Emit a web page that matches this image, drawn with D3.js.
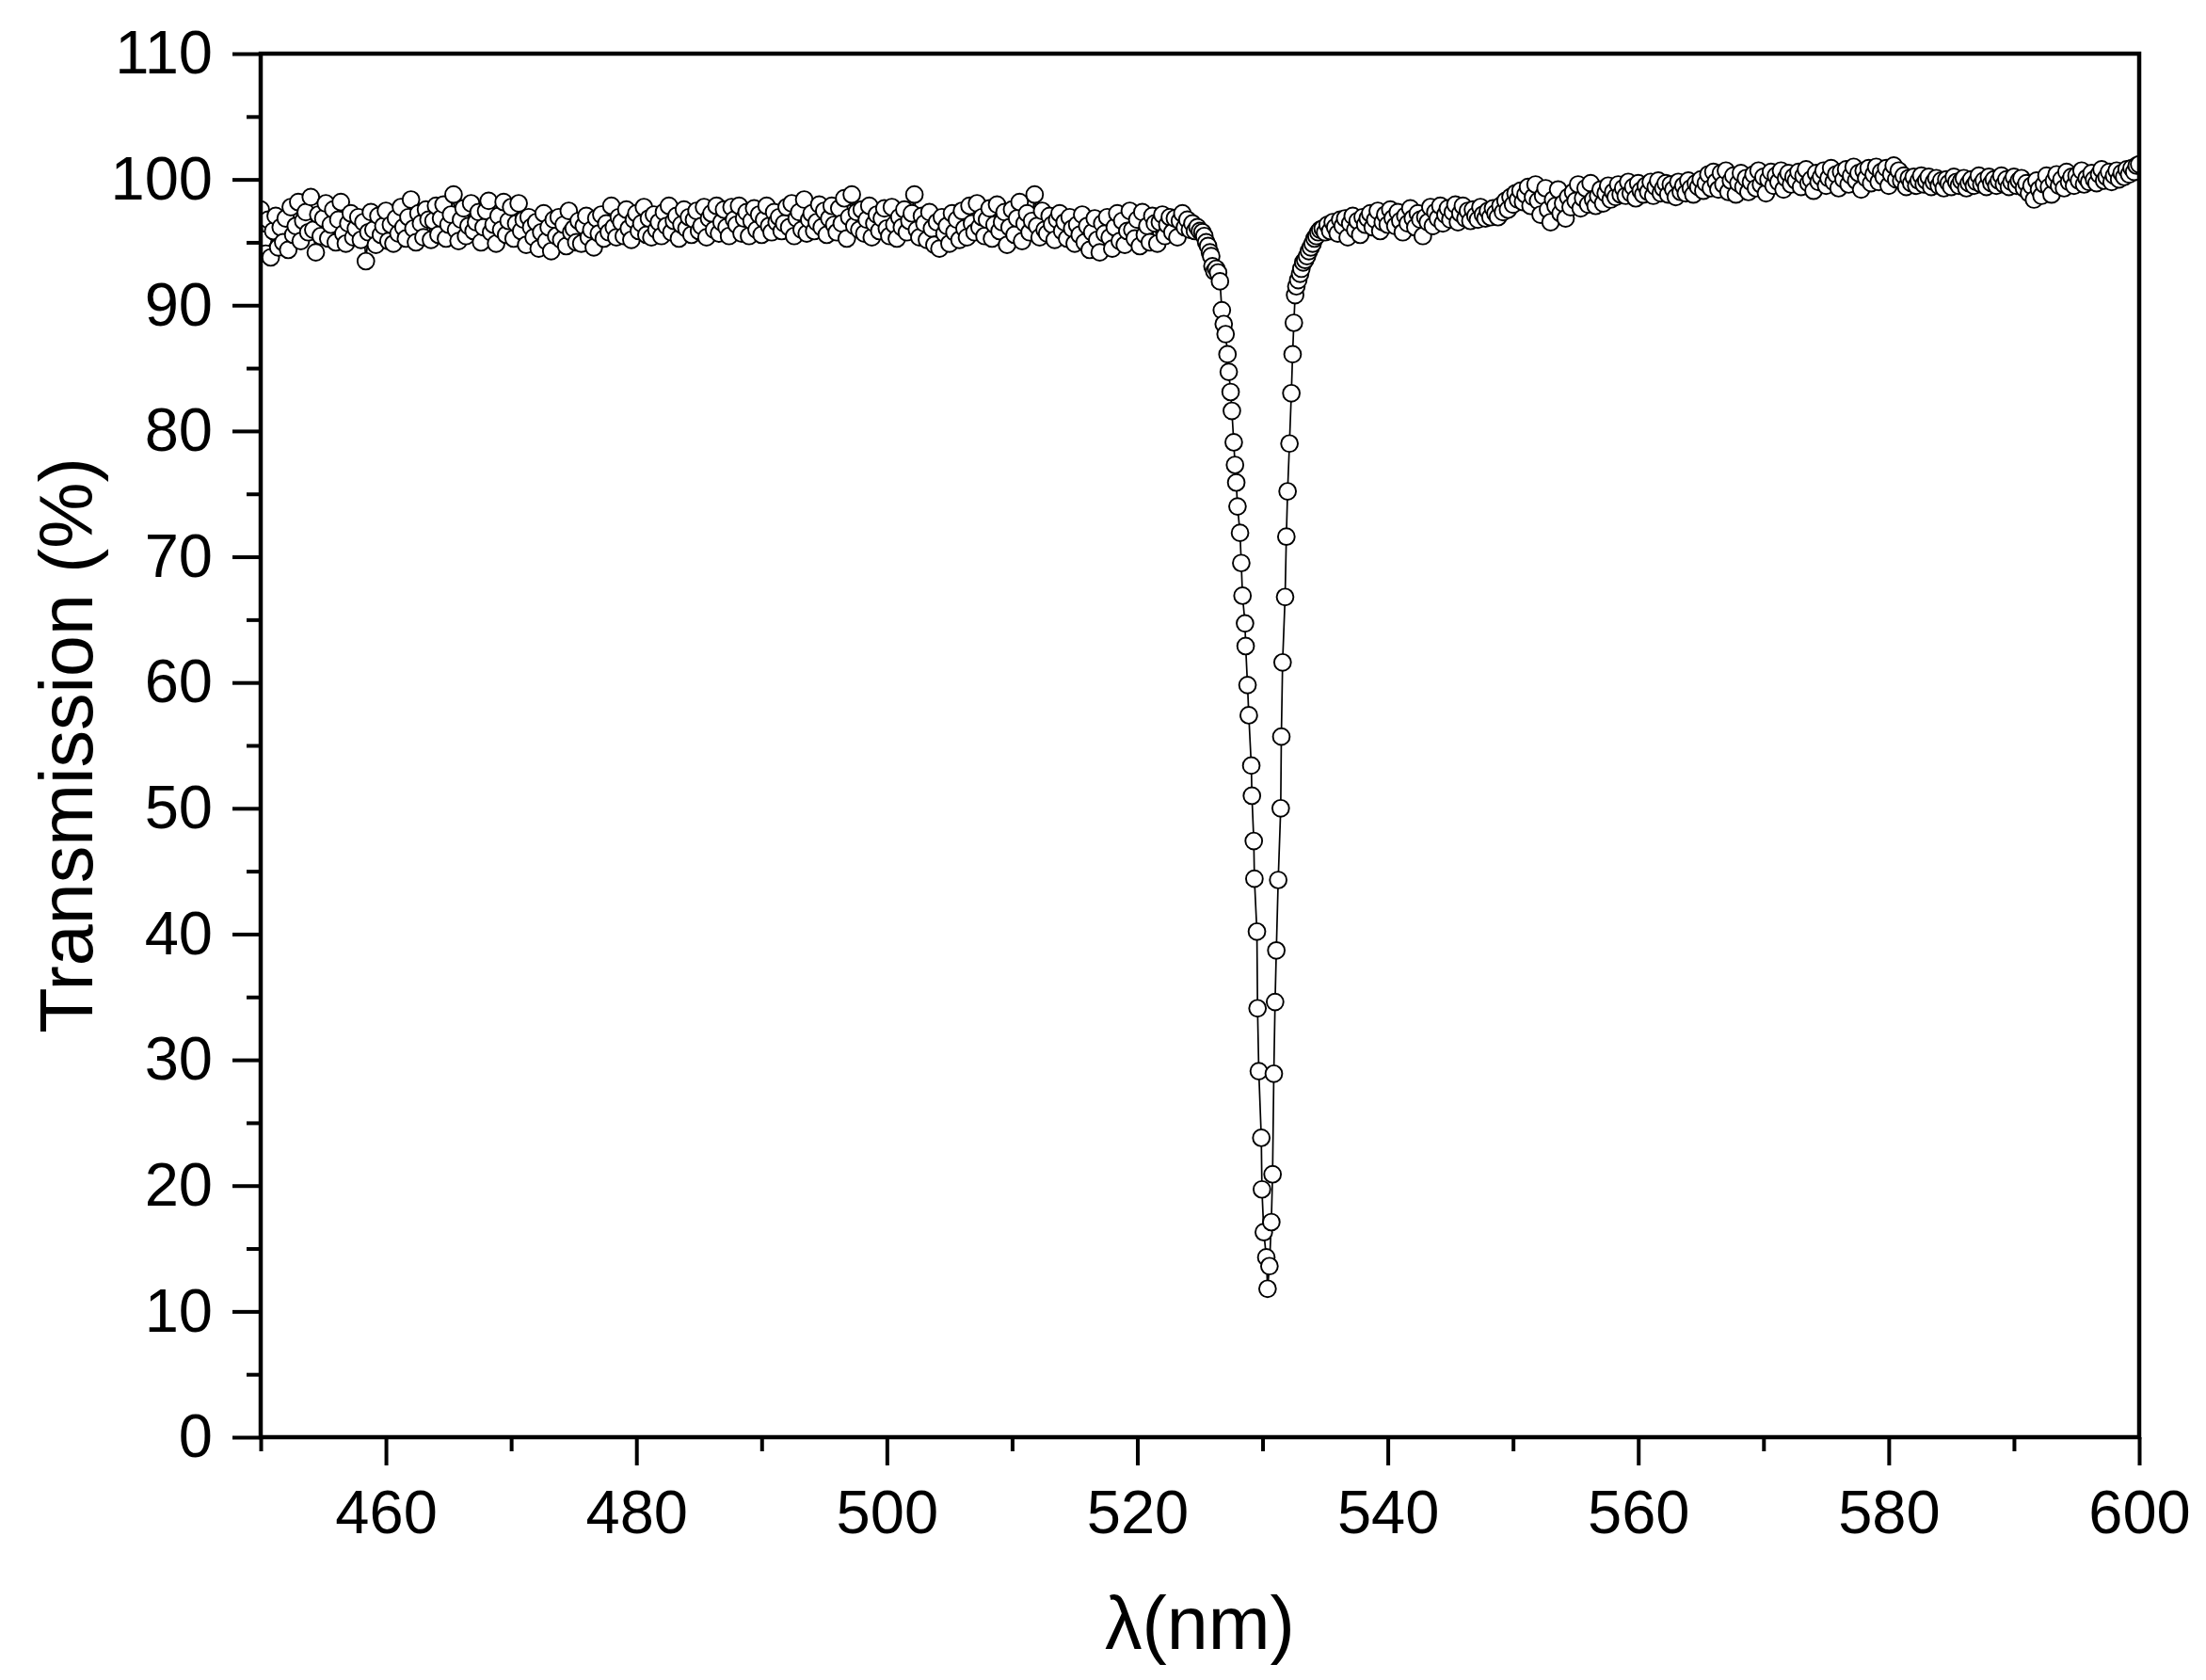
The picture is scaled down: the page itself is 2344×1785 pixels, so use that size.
<!DOCTYPE html>
<html>
<head>
<meta charset="utf-8">
<script src="https://cdn.jsdelivr.net/npm/d3@7"></script>
<style>
  html, body { margin: 0; padding: 0; background: #fff; }
  svg { display: block; font-family: "Liberation Sans", Arial, sans-serif; }
</style>
</head>
<body>
<svg id="chart" width="2344" height="1785"></svg>
<script>
// ---- data ----
// Left flat part: wavelength grid 450.0 nm .. 525.0 nm, step 0.2 nm
const leftStart = 450.0;
const leftStep = 0.2;
const leftTransmission = [
  97.6, 95.2, 94.1, 96.8, 93.8, 95.9, 97.1, 94.6, 96.2, 95.0,
  96.9, 94.4, 97.8, 95.6, 96.3, 98.2, 95.1, 96.7, 97.4, 95.8,
  98.6, 96.0, 94.2, 97.2, 95.5, 96.9, 98.1, 95.3, 96.4, 97.6,
  95.0, 96.8, 98.2, 95.7, 94.9, 96.5, 97.3, 95.4, 96.1, 97.0,
  95.2, 96.6, 93.5, 95.8, 97.4, 96.0, 94.8, 97.1, 95.6, 96.3,
  97.5, 95.1, 96.4, 94.9, 96.9, 95.7, 97.8, 96.2, 95.3, 97.0,
  98.4, 96.1, 95.0, 97.3, 96.5, 95.4, 97.6, 96.8, 95.2, 96.7,
  97.9, 95.6, 96.9, 98.0, 95.3, 96.4, 97.2, 98.8, 96.0, 95.1,
  96.8, 97.7, 95.5, 96.3, 98.1, 95.9, 96.6, 97.4, 95.0, 96.2,
  97.5, 98.3, 95.8, 96.4, 94.9, 97.1, 96.0, 98.2, 95.6, 96.7,
  97.8, 95.3, 96.5, 98.1, 95.9, 96.8, 94.8, 97.0, 96.2, 95.4,
  96.6, 94.5, 95.8, 97.3, 95.1, 96.2, 94.3, 96.8, 95.5, 97.0,
  95.2, 96.4, 94.7, 97.5, 95.8, 96.1, 95.0, 96.7, 94.9, 96.3,
  97.1, 95.4, 96.0, 94.6, 96.9, 95.7, 97.2, 95.3, 96.5, 95.8,
  97.9, 96.2, 95.4, 97.0, 96.6, 95.5, 97.6, 96.1, 95.2, 96.8,
  97.3, 95.9, 96.5, 97.8, 95.6, 96.9, 95.4, 97.2, 96.0, 96.6,
  95.5, 97.4, 96.3, 97.9, 95.8, 96.7, 97.1, 95.3, 96.4, 97.6,
  96.1, 97.0, 95.6, 96.8, 97.5, 95.9, 96.3, 97.8, 95.4, 96.9,
  97.3, 96.0, 97.9, 95.7, 96.6, 97.6, 96.2, 95.5, 97.8, 96.8,
  96.4, 97.9, 95.7, 96.9, 97.4, 95.5, 96.7, 97.7, 96.0, 97.2,
  95.6, 96.8, 97.9, 96.3, 95.8, 97.4, 96.6, 97.0, 95.9, 96.5,
  97.8, 96.2, 98.1, 95.5, 96.9, 97.4, 96.0, 98.4, 95.7, 96.8,
  97.3, 95.9, 96.6, 98.0, 96.2, 97.5, 95.6, 96.9, 97.9, 96.4,
  95.8, 97.7, 96.5, 98.5, 95.3, 97.0, 98.8, 96.3, 97.4, 96.0,
  97.6, 95.7, 96.8, 97.9, 95.4, 96.5, 97.2, 95.9, 96.9, 97.7,
  96.1, 95.5, 97.8, 96.4, 95.3, 97.0, 96.2, 97.6, 95.8, 96.7,
  97.3, 98.8, 96.0, 95.4, 97.1, 96.5, 95.2, 97.4, 96.1, 94.8,
  96.6, 94.5, 97.0, 95.7, 96.3, 94.9, 97.3, 95.8, 96.8, 95.2,
  97.5, 96.1, 95.4, 97.9, 96.5, 95.8, 98.1, 96.2, 97.0, 95.5,
  96.8, 97.7, 95.3, 96.4, 98.0, 95.9, 96.6, 97.4, 94.8, 96.2,
  97.6, 95.6, 96.9, 98.2, 95.1, 96.5, 97.3, 95.8, 96.7, 98.8,
  96.3, 95.4, 97.5, 96.0, 95.7, 97.1, 96.4, 95.2, 96.8, 97.3,
  95.9, 96.6, 95.3, 97.0, 96.1, 94.9, 96.4, 95.6, 97.2, 95.0,
  96.3, 94.4, 95.8, 96.9, 95.2, 94.2, 96.5, 95.7, 97.0, 95.4,
  94.5, 96.2, 97.3, 95.1, 96.7, 94.8, 95.9, 97.5, 96.0, 95.3,
  96.8, 94.7, 97.4, 95.6, 96.3, 95.0, 97.1, 96.5, 94.9, 96.6,
  97.2, 95.5, 96.4, 97.0, 95.8, 96.9, 95.4, 96.7, 97.3, 96.2,
  96.8, 96.0, 96.5, 95.9, 96.2, 95.9
];

// Resonance dip: explicit wavelengths (nm) and transmissions (%)
const dipWavelength = [
  525.2, 525.35, 525.5, 525.65, 525.8, 525.9, 526.0, 526.15, 526.3, 526.45,
  526.6, 526.75, 526.9, 527.05, 527.2, 527.3, 527.45, 527.55, 527.7, 527.8,
  527.9, 528.0, 528.2, 528.3, 528.4, 528.6, 528.65, 528.8, 528.9, 529.1,
  529.15, 529.3, 529.35, 529.55, 529.6, 529.7, 529.9, 529.95, 530.1, 530.3,
  530.4, 530.55, 530.7, 530.8, 530.9, 531.0, 531.1, 531.25, 531.45, 531.5,
  531.6, 531.8, 531.9, 532.0, 532.15, 532.3, 532.4, 532.5, 532.6, 532.7,
  532.85, 533.0, 533.1, 533.25, 533.4, 533.55, 533.7, 533.85, 534.0, 534.15,
  534.3, 534.45, 534.6
];
const dipTransmission = [
  95.8, 95.5, 95.0, 94.7, 94.2, 93.9, 93.1, 92.7, 92.9, 92.6,
  91.9, 89.6, 88.5, 87.7, 86.1, 84.7, 83.1, 81.6, 79.1, 77.3,
  75.9, 74.0, 71.9, 69.5, 66.9, 64.7, 62.9, 59.8, 57.4, 53.4,
  51.0, 47.4, 44.4, 40.2, 34.1, 29.1, 23.8, 19.7, 16.3, 14.3,
  11.8, 13.6, 17.1, 20.9, 28.9, 34.6, 38.7, 44.3, 50.0, 55.7,
  61.6, 66.8, 71.6, 75.2, 79.0, 83.0, 86.1, 88.6, 90.8, 91.5,
  92.0, 92.5, 92.9, 93.4, 93.6, 93.9, 94.3, 94.6, 94.9, 95.3,
  95.5, 95.8, 96.0
];

// Right flat part: wavelength grid 534.8 nm .. 600.0 nm, step 0.2 nm
const rightStart = 534.8;
const rightStep = 0.2;
const rightTransmission = [
  96.1, 95.8, 96.4, 95.9, 96.6, 96.2, 95.7, 96.8, 96.3, 96.9,
  95.4, 96.5, 97.1, 96.0, 96.7, 95.6, 97.0, 96.4, 96.9, 97.3,
  96.2, 96.8, 97.5, 95.9, 96.6, 97.2, 96.4, 97.6, 96.9, 96.3,
  97.4, 96.7, 95.8, 97.1, 96.5, 97.7, 96.9, 96.2, 97.3, 96.8,
  95.5, 97.0, 96.6, 97.8, 96.3, 97.4, 96.9, 97.9, 96.5, 97.2,
  97.7, 96.8, 97.4, 98.0, 96.6, 97.3, 97.9, 96.9, 97.5, 96.7,
  97.6, 97.1, 96.8, 97.8, 97.2, 96.9, 97.5, 97.0, 97.7, 97.3,
  97.0, 97.9, 97.4, 98.3, 97.6, 98.6, 98.0, 98.9, 98.4, 99.1,
  98.2, 98.8, 99.4, 97.9, 98.6, 99.6, 98.3, 97.2, 98.7, 99.3,
  97.6, 96.6, 98.4, 97.9, 99.2, 97.3, 98.1, 96.9, 98.6, 97.8,
  99.0, 98.3, 99.6, 97.7, 98.5, 99.3, 98.0, 99.7, 98.4, 97.9,
  98.7, 99.2, 98.1, 98.9, 99.5, 98.4, 99.0, 98.6, 99.6, 98.8,
  99.3, 98.7, 99.8, 98.9, 99.4, 98.5, 99.7, 99.1, 98.8, 99.5,
  99.0, 99.8, 98.7, 99.4, 99.9, 98.9, 99.3, 99.7, 98.8, 99.6,
  99.2, 98.6, 99.8, 99.0, 99.5, 98.9, 99.9, 99.3, 98.8, 99.7,
  99.4, 100.0, 99.1, 99.7, 100.4, 99.3, 100.6, 99.8, 99.2, 100.5,
  99.6, 100.7, 99.0, 99.9, 100.3, 98.8, 99.7, 100.5, 99.4, 100.1,
  99.0, 99.8, 100.4, 99.3, 100.7, 99.6, 100.2, 98.9, 100.0, 100.6,
  99.5, 100.3, 99.8, 100.7, 99.2, 100.1, 100.5, 99.6, 100.2, 99.9,
  100.6, 99.4, 100.3, 100.8, 99.7, 100.0, 99.1, 100.5, 99.8, 100.2,
  100.7, 99.5, 100.1, 100.9, 99.8, 100.4, 99.3, 100.6, 100.0, 100.8,
  99.6, 100.3, 101.0, 99.9, 100.5, 99.2, 100.7, 100.1, 100.9, 99.7,
  100.4, 101.0, 99.8, 100.6, 100.2, 100.9, 99.5, 100.4, 101.1, 100.0,
  100.7, 99.9, 100.3, 99.4, 100.1, 99.7, 100.2, 99.5, 99.9, 100.3,
  99.6, 99.9, 100.2, 99.4, 99.8, 100.1, 99.5, 99.9, 99.3, 100.0,
  99.7, 99.4, 100.2, 99.8, 99.5, 99.9, 100.1, 99.3, 99.7, 100.0,
  99.5, 99.8, 100.3, 99.6, 99.9, 99.4, 100.2, 99.7, 100.0, 99.5,
  99.9, 100.3, 99.6, 100.0, 99.4, 99.8, 100.2, 99.5, 99.9, 100.1,
  99.3, 99.7, 98.9, 99.5, 98.4, 99.9, 99.2, 98.7, 99.6, 100.3,
  99.4, 98.8, 99.9, 100.4, 99.5, 100.0, 99.3, 100.6, 99.8, 100.2,
  99.5, 100.3, 99.9, 100.7, 99.6, 100.1, 99.8, 100.5, 100.0, 99.7,
  100.4, 100.8, 99.9, 100.2, 100.6, 99.8, 100.3, 100.7, 100.0, 100.5,
  100.2, 100.8, 100.4, 100.9, 100.6, 101.1, 101.2
];

// Axis ticks
const xMajorTicks = [460, 480, 500, 520, 540, 560, 580, 600];
const xMinorTicks = [450, 470, 490, 510, 530, 550, 570, 590];
const yMajorTicks = [0, 10, 20, 30, 40, 50, 60, 70, 80, 90, 100, 110];
const yMinorTicks = [5, 15, 25, 35, 45, 55, 65, 75, 85, 95, 105];
const xTitle = "λ(nm)";
const yTitle = "Transmission (%)";

// ---- assemble points ----
const points = [];
leftTransmission.forEach((t, i) => points.push({ x: +(leftStart + i * leftStep).toFixed(2), y: t }));
dipTransmission.forEach((t, i) => points.push({ x: dipWavelength[i], y: t }));
rightTransmission.forEach((t, i) => points.push({ x: +(rightStart + i * rightStep).toFixed(2), y: t }));

// ---- layout ----
const plot = { left: 277, right: 2273, top: 57, bottom: 1527 };
const svg = d3.select("#chart");

const x = d3.scaleLinear().domain([450, 600]).range([plot.left, plot.right]);
const y = d3.scaleLinear().domain([0, 110]).range([plot.bottom, plot.top]);

svg.append("rect").attr("width", 2344).attr("height", 1785).attr("fill", "#fff");

svg.append("defs").append("clipPath").attr("id", "clip")
  .append("rect")
  .attr("x", plot.left).attr("y", plot.top)
  .attr("width", plot.right - plot.left).attr("height", plot.bottom - plot.top);

const dataG = svg.append("g").attr("clip-path", "url(#clip)");

dataG.append("path")
  .datum(points)
  .attr("fill", "none")
  .attr("stroke", "#000")
  .attr("stroke-width", 1.7)
  .attr("d", d3.line().x(d => x(d.x)).y(d => y(d.y)));

dataG.selectAll("circle")
  .data(points)
  .join("circle")
  .attr("cx", d => x(d.x))
  .attr("cy", d => y(d.y))
  .attr("r", 8.9)
  .attr("fill", "#fff")
  .attr("stroke", "#000")
  .attr("stroke-width", 1.9);

// ---- axes ----
const tickFont = 65;
function styleAxis(g) {
  g.select(".domain").remove();
  g.selectAll(".tick line").attr("stroke", "#000").attr("stroke-width", 4);
  g.selectAll(".tick text")
    .attr("fill", "#000")
    .style("font-size", tickFont + "px")
    .style("font-family", '"Liberation Sans", Arial, sans-serif');
}

// x minor
svg.append("g")
  .attr("transform", `translate(0,${plot.bottom})`)
  .call(d3.axisBottom(x).tickValues(xMinorTicks).tickSize(15).tickFormat(""))
  .call(styleAxis);
// x major
svg.append("g")
  .attr("transform", `translate(0,${plot.bottom})`)
  .call(d3.axisBottom(x).tickValues(xMajorTicks).tickSize(30).tickPadding(26).tickFormat(d3.format("d")))
  .call(styleAxis);
// y minor
svg.append("g")
  .attr("transform", `translate(${plot.left},0)`)
  .call(d3.axisLeft(y).tickValues(yMinorTicks).tickSize(15).tickFormat(""))
  .call(styleAxis);
// y major
svg.append("g")
  .attr("transform", `translate(${plot.left},0)`)
  .call(d3.axisLeft(y).tickValues(yMajorTicks).tickSize(30).tickPadding(21).tickFormat(d3.format("d")))
  .call(styleAxis);

// frame
svg.append("rect")
  .attr("x", plot.left).attr("y", plot.top)
  .attr("width", plot.right - plot.left).attr("height", plot.bottom - plot.top)
  .attr("fill", "none").attr("stroke", "#000").attr("stroke-width", 4.5);

// titles
svg.append("text")
  .attr("x", (plot.left + plot.right) / 2)
  .attr("y", 1752)
  .attr("text-anchor", "middle")
  .style("font-size", "79px")
  .attr("fill", "#000")
  .text(xTitle);

svg.append("text")
  .attr("transform", `translate(98,${(plot.top + plot.bottom) / 2}) rotate(-90)`)
  .attr("text-anchor", "middle")
  .style("font-size", "79px")
  .attr("fill", "#000")
  .text(yTitle);
</script>
</body>
</html>
